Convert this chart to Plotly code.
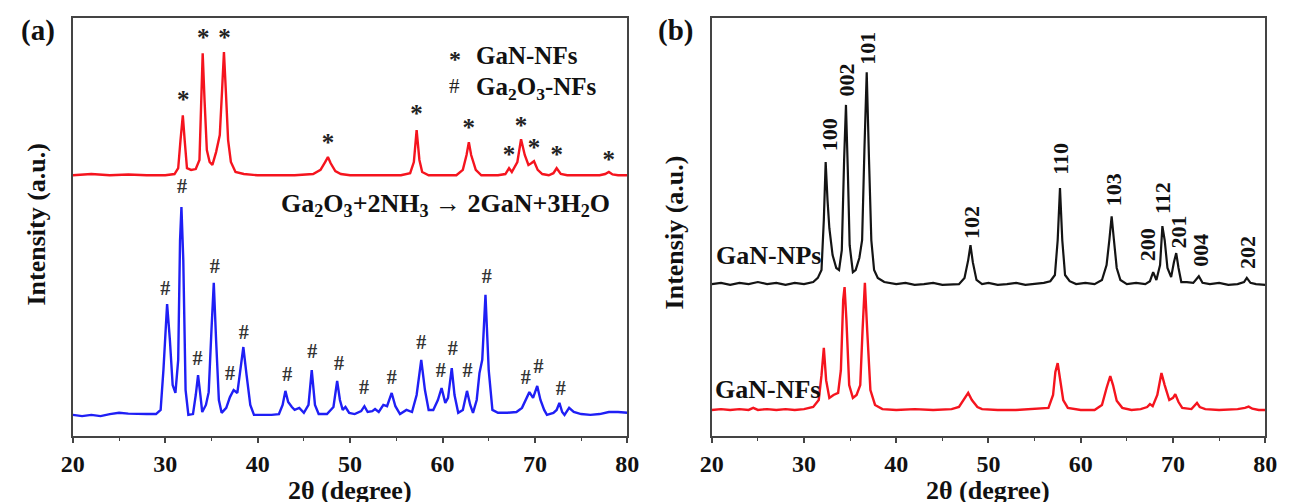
import plotly.graph_objects as go

# ---------------- Panel (a) data ----------------
# GaN-NFs (red, upper) : 2theta, intensity (a.u., includes vertical offset)
a_gan_x = [20, 22, 24, 26, 28, 30, 31.0, 31.4, 31.65, 31.9, 32.1, 32.35, 32.8, 33.3, 33.7, 33.9,
           34.05, 34.25, 34.5, 34.8, 35.1, 35.5, 35.9, 36.15, 36.35, 36.55, 36.8, 37.1, 37.6, 38.5,
           40, 42, 44, 46, 46.8, 47.3, 47.6, 47.9, 48.4, 49, 50, 52, 54, 55.5, 56.5, 56.9, 57.2,
           57.5, 57.8, 58.5, 60, 61.5, 62.2, 62.6, 62.85, 63.1, 63.6, 64.2, 66, 66.8, 67.2, 67.5,
           68.1, 68.5, 68.9, 69.3, 69.6, 69.9, 70.3, 70.8, 71.5, 72.0, 72.35, 72.8, 73.5, 75, 77,
           77.6, 78.0, 78.4, 79, 80]
a_gan_y = [63.0, 63.3, 63.0, 63.2, 63.0, 63.0, 63.3, 64.7, 71.5, 77.5, 71.5, 64.7, 64.3, 64.5, 66.7, 78.7,
           92.5, 81.2, 69.1, 66.2, 65.5, 68.6, 72.7, 83.6, 92.8, 83.6, 71.5, 66.2, 63.8, 63.3,
           63.0, 63.0, 63.0, 63.3, 64.3, 66.2, 67.4, 65.9, 64.0, 63.3, 63.0, 63.0, 63.0, 63.0, 63.5, 66.2, 73.9,
           66.7, 63.8, 63.0, 63.0, 63.0, 64.3, 67.9, 71.0, 67.9, 64.3, 63.0, 63.0, 63.3, 64.7, 63.8,
           66.2, 71.7, 67.9, 65.5, 65.9, 66.4, 64.3, 63.3, 63.0, 63.5, 64.7, 63.3, 63.0, 63.0, 63.0,
           63.3, 63.8, 63.2, 63.0, 63.0]

# Ga2O3-NFs (blue, lower)
a_ga2o3_x = [20, 21, 22, 23, 24, 25, 26, 27, 28, 29, 29.5, 29.8, 30.2, 30.5, 30.8, 31.1, 31.4, 31.6,
             31.75, 31.95, 32.2, 32.5, 33.0, 33.3, 33.55, 33.8, 34.0, 34.4, 34.7, 35.0, 35.25, 35.5,
             35.8, 36.1, 36.6, 37.0, 37.4, 37.8, 38.1, 38.45, 38.8, 39.2, 39.6, 40.5, 41.5, 42.3,
             42.7, 43.0, 43.3, 43.7, 44.0, 44.5, 45.0, 45.5, 45.85, 46.2, 46.6, 47.5, 48.2, 48.6,
             48.9, 49.2, 49.5, 49.9, 50.5, 51.2, 51.55, 51.9, 52.4, 52.7, 53.1, 53.6, 54.0, 54.5,
             54.9, 55.4, 56.1, 56.7, 57.2, 57.7, 58.1, 58.5, 59.0, 59.5, 59.9, 60.3, 60.6, 61.0,
             61.3, 61.7, 62.2, 62.65, 63.0, 63.3, 63.7, 64.0, 64.3, 64.65, 65.0, 65.4, 66.0, 67,
             68, 68.6, 69.0, 69.4, 69.8, 70.25, 70.6, 71.0, 71.3, 72.0, 72.35, 72.65, 72.95, 73.2,
             73.7, 74.2, 75, 76, 77, 78, 79, 80]
a_ga2o3_y = [5.1, 4.8, 5.1, 4.8, 5.3, 5.6, 5.4, 5.3, 5.3, 5.3, 6.3, 15.9, 31.9, 23.2, 12.3, 10.4, 18.4, 47.3,
             55.3, 42.5, 11.1, 5.1, 5.3, 9.9, 14.7, 9.9, 5.8, 7.5, 10.6, 25.6, 37.0, 23.2,
             8.7, 5.6, 6.8, 9.4, 11.1, 10.4, 15.9, 21.5, 14.7, 7.5, 5.1, 5.1, 5.1, 5.3,
             7.5, 10.9, 8.2, 7.0, 6.3, 6.8, 5.6, 7.5, 15.9, 7.5, 5.3, 5.3, 7.0, 13.3,
             8.7, 6.3, 7.0, 5.6, 5.3, 6.0, 7.2, 5.8, 6.0, 6.5, 5.8, 7.5, 7.2, 10.4,
             7.2, 5.3, 6.3, 5.8, 9.9, 18.4, 11.1, 6.3, 6.3, 8.7, 11.6, 8.0, 9.2, 16.4,
             9.9, 5.6, 6.3, 10.9, 7.5, 5.6, 8.7, 15.2, 18.4, 34.1, 15.9, 6.3, 5.6, 5.6,
             5.8, 6.8, 8.7, 10.6, 9.2, 12.1, 8.7, 6.3, 5.1, 5.6, 6.3, 8.0, 5.8, 5.1,
             6.8, 5.8, 5.3, 5.1, 5.3, 5.8, 5.8, 5.6]

# peak markers, panel (a)
a_star_x = [31.95, 34.1, 36.4, 47.6, 57.2, 62.85, 67.2, 68.5, 69.9, 72.35, 78.0]
a_star_y = [80.7, 95.7, 95.7, 70.3, 77.5, 73.9, 67.4, 74.4, 69.1, 67.4, 66.2]
a_hash_x = [30.0, 31.8, 33.5, 35.35, 37.0, 38.5, 43.2, 45.9, 48.8, 51.5, 54.5, 57.7, 59.8, 61.1,
            62.7, 64.8, 69.0, 70.4, 72.8]
a_hash_y = [35.3, 59.9, 18.4, 40.6, 14.7, 24.6, 14.5, 20.0, 17.1, 11.4, 13.8, 22.2, 15.5, 20.8,
            15.5, 38.2, 13.8, 16.4, 11.1]

# ---------------- Panel (b) data ----------------
b_nps_x = [20, 21, 22, 23, 24, 25, 26, 27, 28, 29, 30, 31, 31.5, 31.9, 32.15, 32.35, 32.55, 32.75,
           33.1, 33.5, 33.8, 34.1, 34.35, 34.55, 34.75, 34.95, 35.3, 35.6, 36.0, 36.3, 36.55, 36.8,
           37.05, 37.3, 37.6, 38.0, 38.7, 40, 41, 42, 43, 44, 45, 46, 46.8, 47.4, 47.8, 48.05,
           48.3, 48.7, 49.3, 50, 51, 52, 53, 54, 55, 56, 56.7, 57.2, 57.5, 57.75, 58.0, 58.3,
           58.8, 59.5, 60.5, 61.5, 62.3, 62.8, 63.1, 63.35, 63.6, 63.9, 64.3, 65, 66, 67, 67.5,
           67.85, 68.2, 68.6, 68.85, 69.1, 69.4, 69.8, 70.1, 70.35, 70.6, 70.9, 71.5, 72.2, 72.8,
           73.2, 74, 75, 76, 77, 77.7, 78.0, 78.4, 79, 80]
b_nps_y = [36.7, 37.0, 36.5, 37.0, 36.7, 37.2, 36.7, 37.0, 36.5, 37.0, 36.7, 37.2, 38.2, 40.1, 52.2, 66.2, 57.0, 50.2,
           43.7, 40.6, 40.1, 44.9, 66.7, 80.0, 64.3, 46.1, 39.6, 40.1, 43.0, 47.3, 69.1, 87.9,
           66.7, 47.3, 40.1, 38.2, 37.2, 36.7, 37.0, 36.5, 36.7, 37.0, 36.5, 36.7, 36.7, 38.2, 42.5, 46.1,
           42.0, 37.7, 36.7, 37.0, 36.5, 36.7, 37.0, 36.5, 36.7, 37.0, 37.4, 38.9, 47.3, 59.9, 47.3, 38.9,
           37.4, 36.7, 37.0, 36.7, 37.7, 41.3, 47.3, 53.1, 47.3, 40.6, 37.7, 36.7, 37.0, 36.7, 37.4,
           39.6, 37.7, 41.3, 50.7, 47.3, 40.6, 38.4, 42.0, 44.2, 40.6, 37.2, 37.2, 37.0, 38.6,
           37.0, 36.7, 37.0, 36.5, 36.7, 37.2, 38.2, 37.0, 36.7, 36.5]

b_nfs_x = [20, 21, 22, 23, 24, 24.5, 25, 26, 27, 28, 29, 30, 31, 31.6, 31.9, 32.15, 32.4, 32.75, 33.2,
           33.7, 34.0, 34.25, 34.4, 34.6, 34.9, 35.3, 35.7, 36.1, 36.35, 36.6, 36.85, 37.2, 37.7,
           38.5, 40, 42, 44, 46, 46.8, 47.4, 47.8, 48.2, 48.8, 49.3, 51, 53, 55, 56.5, 57.0, 57.25,
           57.5, 57.75, 58.1, 58.6, 60, 61.5, 62.3, 62.8, 63.2, 63.5, 63.9, 64.5, 65.5, 66.5, 67.2,
           67.5, 67.8, 68.3, 68.75, 69.1, 69.6, 70.0, 70.25, 70.6, 71.0, 72, 72.3, 72.6, 72.9, 73.5,
           75, 77, 77.8, 78.2, 78.6, 79.3, 80]
b_nfs_y = [6.3, 6.5, 6.3, 6.5, 6.3, 6.8, 6.3, 6.5, 6.3, 6.5, 6.3, 6.5, 7.0, 8.7, 14.7, 21.3, 13.5, 9.2, 9.9,
           10.4, 15.9, 32.9, 36.0, 28.0, 12.3, 9.2, 9.9, 12.3, 25.6, 37.0, 25.6, 11.1, 7.5,
           6.5, 6.3, 6.5, 6.3, 6.5, 7.0, 8.9, 10.4, 8.7, 7.0, 6.5, 6.3, 6.3, 6.5, 6.8, 9.9, 15.5,
           17.6, 14.0, 8.7, 6.8, 6.3, 6.3, 7.5, 11.6, 14.5, 12.3, 8.5, 6.8, 6.3, 6.5, 7.0,
           7.7, 7.2, 9.9, 15.2, 12.3, 8.7, 9.2, 10.1, 8.2, 6.8, 6.5, 7.2, 8.0, 7.0, 6.5,
           6.3, 6.5, 6.8, 7.1, 6.6, 6.3, 6.3]

# Miller indices, panel (b)
b_hkl = ["100", "002", "101", "102", "110", "103", "200", "112", "201", "004", "202"]
b_hkl_x = [32.7, 34.6, 36.9, 48.1, 57.8, 63.5, 67.2, 68.8, 70.6, 73.0, 78.0]
b_hkl_y = [72.9, 86.0, 93.7, 51.7, 67.1, 59.4, 46.1, 57.5, 49.3, 44.9, 44.4]

RED = "#f5141e"
BLUE = "#1f1ff5"
BLACK = "#141414"
FONT = "Liberation Serif"

fig = go.Figure()
fig.add_trace(go.Scatter(x=a_gan_x, y=a_gan_y, mode="lines", line=dict(color=RED, width=2.4),
                         xaxis="x", yaxis="y"))
fig.add_trace(go.Scatter(x=a_ga2o3_x, y=a_ga2o3_y, mode="lines", line=dict(color=BLUE, width=2.4),
                         xaxis="x", yaxis="y"))
fig.add_trace(go.Scatter(x=a_star_x, y=a_star_y, mode="text", text=["*"] * len(a_star_x),
                         textfont=dict(family=FONT, size=25, color="#222", weight="bold"),
                         xaxis="x", yaxis="y"))
fig.add_trace(go.Scatter(x=a_hash_x, y=a_hash_y, mode="text", text=["#"] * len(a_hash_x),
                         textfont=dict(family=FONT, size=20, color="#333", weight="bold"),
                         xaxis="x", yaxis="y"))
fig.add_trace(go.Scatter(x=b_nps_x, y=b_nps_y, mode="lines", line=dict(color=BLACK, width=2.2),
                         xaxis="x2", yaxis="y2"))
fig.add_trace(go.Scatter(x=b_nfs_x, y=b_nfs_y, mode="lines", line=dict(color=RED, width=2.4),
                         xaxis="x2", yaxis="y2"))

annotations = []
for lab, hx, hy in zip(b_hkl, b_hkl_x, b_hkl_y):
    annotations.append(dict(text=lab, x=hx, y=hy, xref="x2", yref="y2", textangle=-90,
                            showarrow=False, xanchor="center", yanchor="middle",
                            font=dict(family=FONT, size=22, color="#111", weight="bold")))

txt = dict(family=FONT, size=26, color="#111", weight="bold")
leg = dict(family=FONT, size=25, color="#111", weight="bold")


def pa(text, px, py, font, angle=0):
    return dict(text=text, x=px / 1290, y=1 - py / 502, xref="paper", yref="paper",
                xanchor="center", yanchor="middle", textangle=angle, showarrow=False, font=font)


annotations += [
    dict(text="*", x=61.3, y=91.0, xref="x", yref="y", showarrow=False, xanchor="center",
         yanchor="middle", font=dict(family=FONT, size=24, color="#222", weight="bold")),
    dict(text="GaN-NFs", x=63.4, y=91.9, xref="x", yref="y", showarrow=False, xanchor="left",
         yanchor="middle", font=leg),
    dict(text="#", x=61.3, y=84.6, xref="x", yref="y", showarrow=False, xanchor="center",
         yanchor="middle", font=dict(family=FONT, size=21, color="#222")),
    dict(text="Ga<sub>2</sub>O<sub>3</sub>-NFs", x=63.4, y=84.0, xref="x", yref="y",
         showarrow=False, xanchor="left", yanchor="middle", font=leg),
    dict(text="Ga<sub>2</sub>O<sub>3</sub>+2NH<sub>3</sub> \u2192 2GaN+3H<sub>2</sub>O", x=60.3, y=55.8,
         xref="x", yref="y", showarrow=False, xanchor="center", yanchor="middle",
         font=dict(family=FONT, size=26, color="#111", weight="bold")),
    dict(text="GaN-NPs", x=26.1, y=43.6, xref="x2", yref="y2", showarrow=False,
         xanchor="center", yanchor="middle", font=txt),
    dict(text="GaN-NFs", x=26.0, y=11.2, xref="x2", yref="y2", showarrow=False,
         xanchor="center", yanchor="middle", font=txt),
    pa("(a)", 27, 31, dict(family=FONT, size=29, color="#111", weight="bold")),
    pa("(b)", 676, 31, dict(family=FONT, size=29, color="#111", weight="bold")),
    pa("Intensity (a.u.)", 24, 224, txt, -90),
    pa("Intensiy (a.u.)", 675, 232, txt, -90),
    pa("2\u03b8 (degree)", 344, 490, txt),
    pa("2\u03b8 (degree)", 995, 490, txt),
]

xcommon = dict(range=[20, 80], dtick=10, tick0=20, showline=True, linecolor="#444", linewidth=1.6,
               mirror=True, ticks="outside", ticklen=5, tickwidth=1.5, tickcolor="#444",
               showgrid=False, zeroline=False,
               tickfont=dict(family=FONT, size=24, color="#111", weight="bold"),
               minor=dict(dtick=5, ticks="outside", ticklen=3, tickwidth=1.2, tickcolor="#444"))
ycommon = dict(range=[0, 101.0], showline=True, linecolor="#444", linewidth=1.6, mirror=True,
               showticklabels=False, ticks="", showgrid=False, zeroline=False,
               domain=[1 - 436 / 502, 1 - 18 / 502])

fig.update_layout(
    width=1290, height=502, margin=dict(l=0, r=0, t=0, b=0),
    paper_bgcolor="white", plot_bgcolor="white", showlegend=False,
    xaxis=dict(domain=[62 / 1290, 627 / 1290], anchor="y", **xcommon),
    yaxis=dict(anchor="x", **ycommon),
    xaxis2=dict(domain=[713 / 1290, 1277 / 1290], anchor="y2", **xcommon),
    yaxis2=dict(anchor="x2", **ycommon),
    annotations=annotations,
)

fig.write_html("out.html", config={"displayModeBar": False},
               post_script="document.body.style.margin='0';")
